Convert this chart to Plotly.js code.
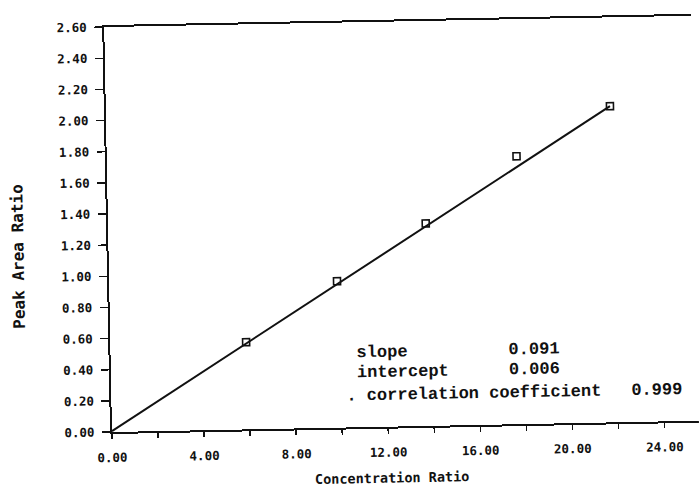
<!DOCTYPE html>
<html>
<head>
<meta charset="utf-8">
<script src="https://cdn.plot.ly/plotly-3.0.1.min.js"></script>
<style>
  html, body { margin: 0; padding: 0; background: #ffffff; overflow: hidden; }
  #chart { width: 699px; height: 500px; transform: rotate(-1.1deg); transform-origin: 112px 432px; }
</style>
</head>
<body>
<div id="chart"></div>
<script>
// Data
const concRatio = [5.9, 9.9, 13.8, 17.8, 21.9];
const peakAreaRatio = [0.56, 0.94, 1.30, 1.72, 2.03];
const fitX = [0, 21.9];
const fitY = [0.006, 2.03];
const xTickVals = [0, 4, 8, 12, 16, 20, 24];
const yTickVals = [0, 0.2, 0.4, 0.6, 0.8, 1.0, 1.2, 1.4, 1.6, 1.8, 2.0, 2.2, 2.4, 2.6];
const statLabels = ['slope', 'intercept', '. correlation coefficient'];
const statValues = ['0.091', '0.006', '0.999'];

const ink = '#111111';
const monoBold = { family: 'DejaVu Sans Mono', size: 12.5, color: ink, weight: 'bold' };
const courier = { family: 'Liberation Mono', size: 17, color: ink, weight: 'bold' };

const traces = [
  {
    x: fitX, y: fitY, type: 'scatter', mode: 'lines',
    line: { color: ink, width: 2 }, hoverinfo: 'skip', showlegend: false
  },
  {
    x: concRatio, y: peakAreaRatio, type: 'scatter', mode: 'markers',
    marker: { symbol: 'square-open', size: 7, color: ink, line: { color: ink, width: 1.6 } },
    showlegend: false
  }
];

// stat text positions (data coords)
const rowY = [0.478, 0.35, 0.205];
const labelX = [10.6, 10.6, 10.1];
const valueX = [17.2, 17.2, 22.5];
const annotations = [];
statLabels.forEach((t, i) => {
  annotations.push({ text: t, x: labelX[i], y: rowY[i], xref: 'x', yref: 'y',
    xanchor: 'left', yanchor: 'middle', showarrow: false, font: courier });
  annotations.push({ text: statValues[i], x: valueX[i], y: rowY[i], xref: 'x', yref: 'y',
    xanchor: 'left', yanchor: 'middle', showarrow: false, font: courier });
});
annotations.push({ text: 'Peak Area Ratio', xref: 'paper', yref: 'paper', x: -0.155, y: 0.437,
  textangle: -90, showarrow: false, xanchor: 'center', yanchor: 'middle',
  font: { family: 'DejaVu Sans Mono', size: 16, color: ink, weight: 'bold' } });
annotations.push({ text: 'Concentration Ratio', xref: 'paper', yref: 'paper', x: 0.475, y: -0.125,
  showarrow: false, xanchor: 'center', yanchor: 'middle',
  font: { family: 'DejaVu Sans Mono', size: 13.5, color: ink, weight: 'bold' } });

const layout = {
  width: 699, height: 500,
  margin: { l: 112, r: 0, t: 27, b: 68 },
  paper_bgcolor: '#ffffff', plot_bgcolor: '#ffffff',
  showlegend: false,
  xaxis: {
    range: [0, 25.5], showgrid: false, zeroline: false,
    showline: true, linecolor: ink, linewidth: 2, mirror: true,
    ticks: 'outside', ticklen: 5, tickwidth: 1.5, tickcolor: ink,
    tickvals: xTickVals, tickformat: '.2f', tickfont: monoBold, ticklabelstandoff: 8,
    minor: { dtick: 2, tick0: 0, ticks: 'outside', ticklen: 5, tickwidth: 1.5, tickcolor: ink, showgrid: false }
  },
  yaxis: {
    range: [0, 2.6], showgrid: false, zeroline: false,
    showline: true, linecolor: ink, linewidth: 2,
    ticks: 'outside', ticklen: 8, tickwidth: 1.5, tickcolor: ink,
    tickvals: yTickVals, tickformat: '.2f', tickfont: monoBold, ticklabelstandoff: 5
  },
  annotations: annotations
};

Plotly.newPlot('chart', traces, layout, { staticPlot: true, displayModeBar: false });
</script>
</body>
</html>
